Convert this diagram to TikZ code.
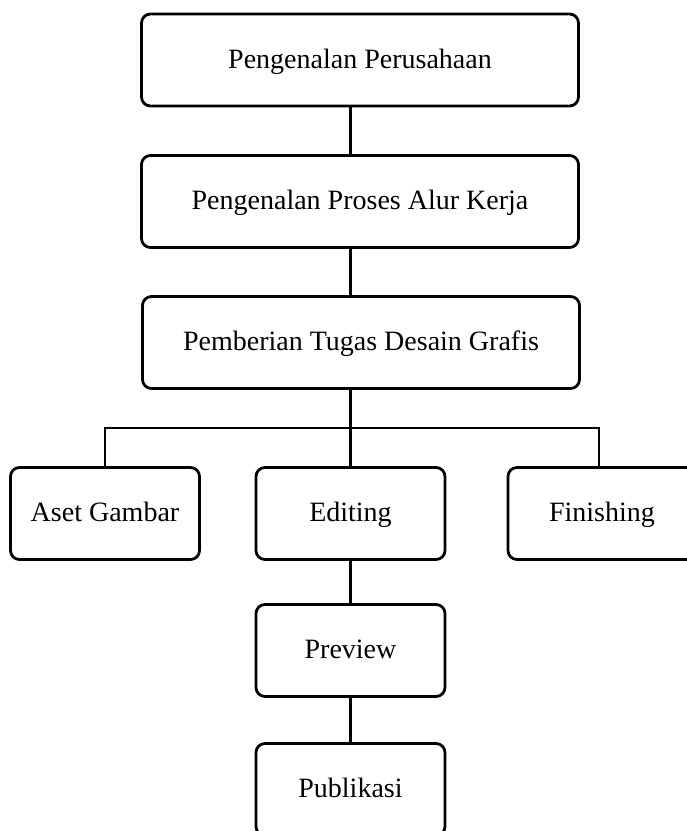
\documentclass[tikz,border=0pt]{standalone}
\usepackage{fontspec}
\setmainfont{Liberation Serif}
\usetikzlibrary{calc}

\begin{document}
\begin{tikzpicture}[x=1pt,y=1pt,
    box/.style={draw,black,line width=2.8pt,rounded corners=9pt,inner sep=0pt,
      text height=20pt,text depth=4pt,font=\fontsize{28}{34}\selectfont},
    wide/.style={box,minimum width=437pt,minimum height=92pt},
    small/.style={box,minimum width=189pt,minimum height=92pt},
    link/.style={black,line width=2.6pt}]
    \useasboundingbox (0,0) rectangle (687,-831);
    \clip (0,0) rectangle (687,-831);
    % draw boxes
    \node[wide] (kenal) at (360,-60) {Pengenalan Perusahaan};
    \node[wide] (alur) at (360,-201.5) {Pengenalan Proses Alur Kerja};
    \node[wide] (tugas) at (361,-342.5) {Pemberian Tugas Desain Grafis};
    \node[small] (aset) at (105,-513.5) {Aset Gambar};
    \node[small] (edit) at (350.5,-513.5) {Editing};
    \node[small,minimum width=188pt] (finish) at (602,-513.5) {Finishing};
    \node[small] (preview) at (350.5,-650.5) {Preview};
    \node[small] (publik) at (350.5,-789.5) {Publikasi};
    \coordinate (bus) at (350.5,-428);
    % draw links
    \draw[link] (edit.north |- kenal.south) -- (edit.north |- alur.north);
    \draw[link] (edit.north |- alur.south) -- (edit.north |- tugas.north);
    \draw[link] (edit.north |- tugas.south) -- (edit.north);
    \draw[link] (aset.north) |- (bus) -| ([xshift=-3pt]finish.north);
    \draw[link] (edit.south) -- (preview.north);
    \draw[link] (preview.south) -- (publik.north);
\end{tikzpicture}
\end{document}
